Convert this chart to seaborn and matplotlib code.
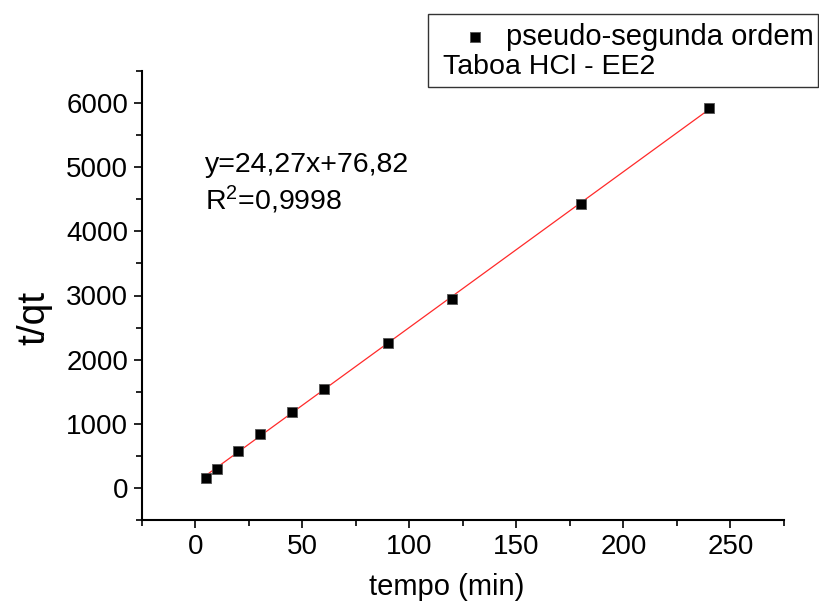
import matplotlib
matplotlib.use("Agg")
import matplotlib.pyplot as plt
from matplotlib.patches import Rectangle
from matplotlib.ticker import MultipleLocator
import numpy as np
import pandas as pd
import seaborn as sns

# data
tempo = [5, 10, 20, 30, 45, 60, 90, 120, 180, 240]
t_qt = [150, 290, 580, 840, 1180, 1550, 2260, 2950, 4430, 5920]
slope = 24.27
intercept = 76.82
fit_x = [5, 240]
series_label = "pseudo-segunda ordem"
sample_label = "Taboa HCl - EE2"
eq_text = "y=24,27x+76,82"
r2_text = "R$^{2}$=0,9998"
x_ticks = [0, 50, 100, 150, 200, 250]
y_ticks = [0, 1000, 2000, 3000, 4000, 5000, 6000]

sns.set_style("ticks")
plt.rcParams["font.family"] = ["Liberation Sans", "DejaVu Sans"]
plt.rcParams["mathtext.fontset"] = "custom"
plt.rcParams["mathtext.rm"] = "Liberation Sans"
plt.rcParams["mathtext.it"] = "Liberation Sans"
plt.rcParams["text.color"] = "black"
plt.rcParams["axes.labelcolor"] = "black"
plt.rcParams["xtick.color"] = "black"
plt.rcParams["ytick.color"] = "black"
plt.rcParams["xtick.labelcolor"] = "black"
plt.rcParams["ytick.labelcolor"] = "black"

df = pd.DataFrame({"tempo": tempo, "t_qt": t_qt})
fit_df = pd.DataFrame({"x": fit_x, "y": [slope * v + intercept for v in fit_x]})

fig = plt.figure(figsize=(8.2, 6.03), dpi=100)
ax = fig.add_axes([142 / 820, 83 / 603, 642 / 820, 449 / 603])

sns.lineplot(data=fit_df, x="x", y="y", ax=ax, color="#ff2a2a", linewidth=0.9, zorder=2)
sns.scatterplot(data=df, x="tempo", y="t_qt", ax=ax, marker="s", s=62,
                color="black", edgecolor="#555555", linewidth=0.6, zorder=3,
                label=series_label)

ax.set_xlim(-25, 275)
ax.set_ylim(-500, 6500)
ax.set_xticks(x_ticks)
ax.set_yticks(y_ticks)
ax.xaxis.set_minor_locator(MultipleLocator(25))
ax.yaxis.set_minor_locator(MultipleLocator(500))

for s in ["top", "right"]:
    ax.spines[s].set_visible(False)
for s in ["left", "bottom"]:
    ax.spines[s].set_linewidth(1.5)
    ax.spines[s].set_color("black")

ax.tick_params(axis="both", which="major", direction="out", length=6, width=1.2,
               labelsize=20, pad=4, color="black", labelcolor="black")
ax.tick_params(axis="both", which="minor", direction="out", length=4, width=1.2, color="black")

ax.set_xlabel("tempo (min)", fontsize=21, color="black")
ax.set_ylabel("t/qt", fontsize=28, color="black")
ax.xaxis.set_label_coords(0.475, -0.118)
ax.yaxis.set_label_coords(-0.14, 0.45)

ax.text(205 / 820, 1 - 165 / 603, eq_text, transform=fig.transFigure,
        fontsize=20.5, va="center", ha="left", color="black")
ax.text(205 / 820, 1 - 200 / 603, r2_text, transform=fig.transFigure,
        fontsize=20.5, va="center", ha="left", color="black")

# legend box
fig.patches.append(Rectangle((428 / 820, 1 - 87 / 603), (818 - 428) / 820, 73 / 603,
                             transform=fig.transFigure, fill=False,
                             edgecolor="#333333", linewidth=1.0))
handles, labels = ax.get_legend_handles_labels()
leg = ax.legend(handles, labels, loc="center left",
                bbox_to_anchor=(460 / 820, 1 - 37 / 603), bbox_transform=fig.transFigure,
                frameon=False, fontsize=21, borderpad=0, borderaxespad=0,
                handlelength=1.0, handletextpad=0.58, markerscale=1.0)
for t in leg.get_texts():
    t.set_color("black")
fig.text(443 / 820, 1 - 67 / 603, sample_label, fontsize=20.5, va="center", ha="left",
         color="black")

fig.savefig("out.png", dpi=100)
